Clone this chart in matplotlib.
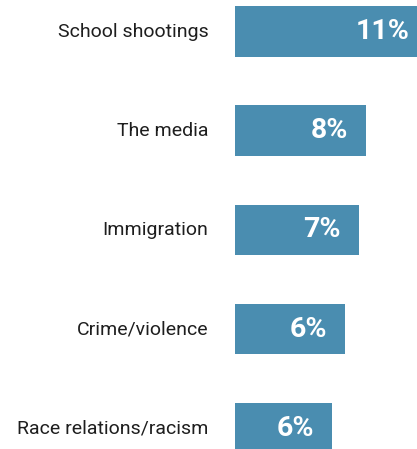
import matplotlib
matplotlib.use("Agg")
import matplotlib.pyplot as plt

# Share of people naming each issue (labels are rounded to whole percent)
categorias = ["School shootings", "The media", "Immigration", "Crime/violence", "Race relations/racism"]
valores = [11.35, 7.71, 7.29, 6.47, 5.71]

cor_barra = "#4a8db0"

fig = plt.figure(figsize=(4.17, 4.49), dpi=100)
ax = fig.add_axes([235 / 417, 0, 1 - 235 / 417, 1])

pos = list(range(len(categorias)))
ax.barh(pos, valores, height=0.515, color=cor_barra, clip_on=True)

ax.set_xlim(0, 182 / 17)
ax.set_ylim(4.212, -0.323)
ax.axis("off")

# rotulos de valor dentro das barras, alinhados a direita
for p, v in zip(pos, valores):
    ax.annotate(f"{round(v)}%", xy=(v, p), xytext=(-13, 0), textcoords="offset points",
                ha="right", va="center", color="white", fontsize=20.5,
                fontweight="bold", family=["Roboto", "DejaVu Sans"],
                annotation_clip=False)

# nomes das categorias a esquerda das barras
for p, c in zip(pos, categorias):
    ax.annotate(c, xy=(0, p), xytext=(-19, 0), textcoords="offset points",
                ha="right", va="center", color="#1e1e1e", fontsize=14,
                family=["Roboto", "DejaVu Sans"], annotation_clip=False)

fig.savefig("out.png", dpi=100)
